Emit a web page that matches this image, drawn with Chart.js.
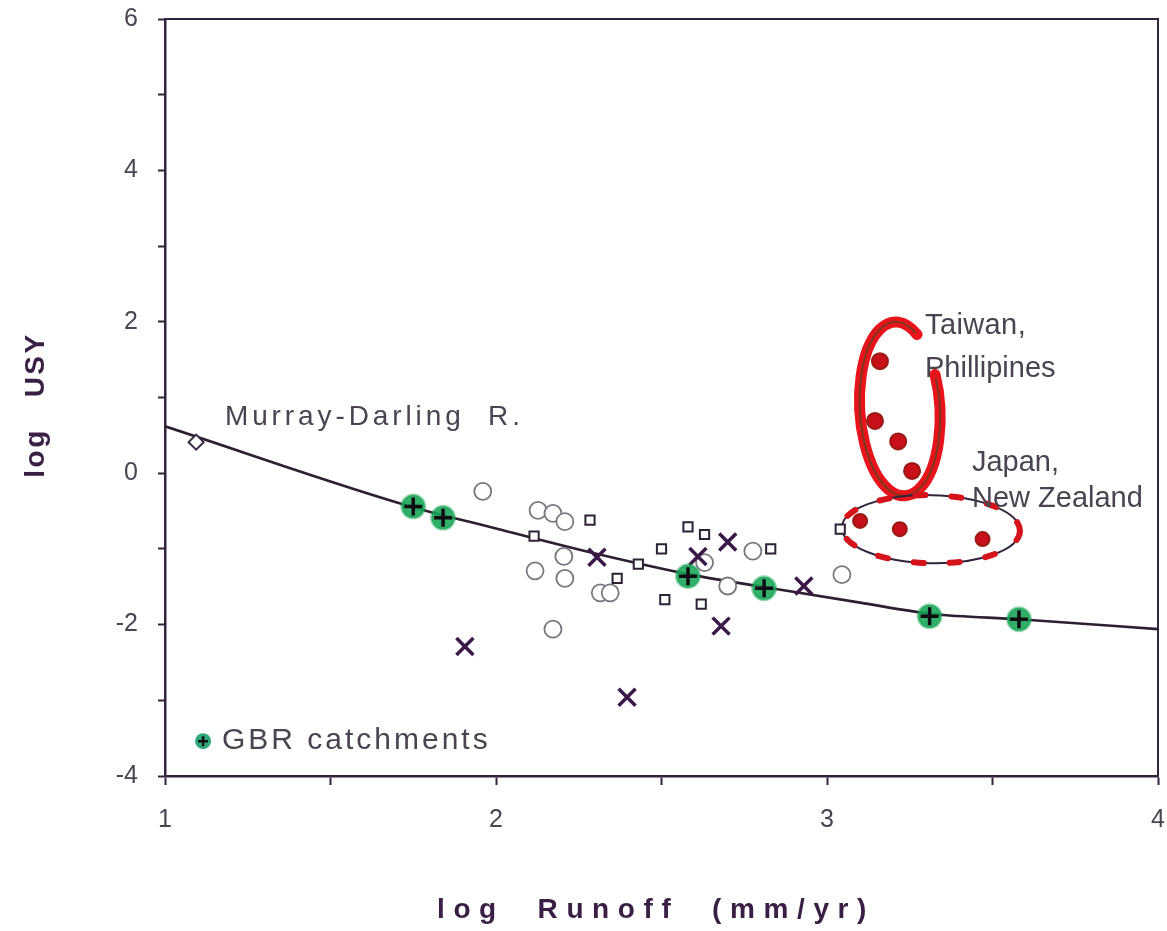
<!DOCTYPE html>
<html>
<head>
<meta charset="utf-8">
<script src="https://cdn.jsdelivr.net/npm/chart.js@4.4.1/dist/chart.umd.min.js"></script>
<style>
  html, body { margin: 0; padding: 0; background: #ffffff; }
  #wrap { width: 1167px; height: 931px; }
</style>
</head>
<body>
<div id="wrap"><canvas id="c" width="1167" height="931"></canvas></div>
<script>
// log Runoff (x) vs log USY (y)

// Fitted trend line
const trendX = [1.0, 1.75, 2.0, 2.3, 2.6, 2.82, 3.1, 3.32, 3.58, 4.0];
const trendY = [0.62, -0.45, -0.73, -1.06, -1.35, -1.51, -1.71, -1.86, -1.93, -2.06];

// Great Barrier Reef catchments
const gbrX = [1.75, 1.84, 2.58, 2.81, 3.31, 3.58];
const gbrY = [-0.44, -0.59, -1.36, -1.52, -1.89, -1.93];

// Murray-Darling River
const mdX = [1.094];
const mdY = [0.41];

// Other rivers: crosses
const crossX = [1.906, 2.305, 2.396, 2.61, 2.70, 2.68, 2.93];
const crossY = [-2.29, -1.11, -2.96, -1.10, -0.91, -2.02, -1.49];

// Other rivers: open circles
const circX = [1.96, 2.127, 2.172, 2.208, 2.118, 2.208, 2.315, 2.345, 2.172, 2.63, 2.70, 2.776, 3.045, 2.205];
const circY = [-0.24, -0.49, -0.53, -0.64, -1.29, -1.39, -1.58, -1.58, -2.06, -1.18, -1.49, -1.03, -1.34, -1.10];

// Other rivers: open squares
const sqX = [2.115, 2.284, 2.43, 2.366, 2.50, 2.51, 2.58, 2.63, 2.83, 2.62, 3.04];
const sqY = [-0.83, -0.62, -1.20, -1.39, -1.00, -1.67, -0.71, -0.81, -1.00, -1.73, -0.74];

// Taiwan, Phillipines
const twX = [3.16, 3.145, 3.215, 3.257];
const twY = [1.48, 0.69, 0.42, 0.03];

// Japan, New Zealand
const jpX = [3.10, 3.22, 3.47];
const jpY = [-0.63, -0.74, -0.87];

// Axis ticks
const xTickLabels = [1, 2, 3, 4];
const yTickLabels = [-4, -2, 0, 2, 4, 6];

const pts = (xs, ys) => xs.map((x, i) => ({ x: x, y: ys[i] }));

const INK = '#33243d';
const TEXT = '#4a4450';

// Group outlines (centre and radii in data units)
const groupRings = [
  { cx: 3.22, cy: 0.85, rx: 0.121, ry: 1.15, rot: -0.06, style: 'taiwan' },
  { cx: 3.314, cy: -0.74, rx: 0.269, ry: 0.45, rot: 0.02, style: 'japan' }
];

// Annotation text in data units
const notes = [
  { text: 'Murray-Darling  R.', x: 1.181, y: 0.74, size: 28, spacing: 3.9 },
  { text: 'Taiwan,', x: 3.296, y: 1.94, size: 29, spacing: 0.4 },
  { text: 'Phillipines', x: 3.296, y: 1.37, size: 29, spacing: 0 },
  { text: 'Japan,', x: 3.438, y: 0.14, size: 29, spacing: 0 },
  { text: 'New Zealand', x: 3.438, y: -0.34, size: 29, spacing: 0 }
];

const decor = {
  id: 'decor',
  beforeDatasetsDraw(chart) {
    const { ctx, scales: { x, y }, chartArea: a } = chart;
    ctx.save();
    // frame top and right
    ctx.strokeStyle = INK;
    ctx.lineWidth = 2;
    ctx.beginPath();
    ctx.moveTo(a.left, a.top);
    ctx.lineTo(a.right, a.top);
    ctx.lineTo(a.right, a.bottom);
    ctx.stroke();

    groupRings.forEach(r => {
      const px = x.getPixelForValue(r.cx), py = y.getPixelForValue(r.cy);
      const rx = Math.abs(x.getPixelForValue(r.cx + r.rx) - px);
      const ry = Math.abs(y.getPixelForValue(r.cy + r.ry) - py);
      if (r.style === 'taiwan') {
        const a0 = -0.38, a1 = -1.0 + Math.PI * 2;
        ctx.lineCap = 'round';
        ctx.strokeStyle = '#e8141c';
        ctx.lineWidth = 11;
        ctx.beginPath();
        ctx.ellipse(px, py, rx, ry, r.rot, a0, a1);
        ctx.stroke();
        ctx.strokeStyle = '#7a3a22';
        ctx.lineWidth = 2;
        ctx.beginPath();
        ctx.ellipse(px, py, rx, ry, r.rot, a0 + 0.05, a1 - 0.05);
        ctx.stroke();
      } else {
        ctx.strokeStyle = INK;
        ctx.lineWidth = 2;
        ctx.beginPath();
        ctx.ellipse(px, py, rx, ry, r.rot, 0, Math.PI * 2);
        ctx.stroke();
        ctx.strokeStyle = '#d4141a';
        ctx.lineWidth = 6;
        ctx.lineCap = 'round';
        ctx.setLineDash([10, 26]);
        ctx.beginPath();
        ctx.ellipse(px, py, rx, ry, r.rot, 0, Math.PI * 2);
        ctx.stroke();
        ctx.setLineDash([]);
      }
    });
    ctx.restore();
  },
  afterDraw(chart) {
    const { ctx, scales: { x, y }, chartArea: a } = chart;
    ctx.save();
    ctx.textBaseline = 'middle';
    ctx.textAlign = 'left';
    ctx.fillStyle = TEXT;
    notes.forEach(n => {
      ctx.font = n.size + 'px "Liberation Sans", Arial, sans-serif';
      ctx.letterSpacing = n.spacing + 'px';
      ctx.fillText(n.text, x.getPixelForValue(n.x), y.getPixelForValue(n.y));
    });

    // legend entry
    const lx = x.getPixelForValue(1.115), ly = y.getPixelForValue(-3.54);
    ctx.fillStyle = 'rgba(24,160,110,0.9)';
    ctx.beginPath();
    ctx.arc(lx, ly, 8, 0, Math.PI * 2);
    ctx.fill();
    ctx.strokeStyle = '#111';
    ctx.lineWidth = 2.5;
    ctx.beginPath();
    ctx.moveTo(lx - 5, ly); ctx.lineTo(lx + 5, ly);
    ctx.moveTo(lx, ly - 5); ctx.lineTo(lx, ly + 5);
    ctx.stroke();
    ctx.fillStyle = TEXT;
    ctx.font = '30px "Liberation Sans", Arial, sans-serif';
    ctx.letterSpacing = '3px';
    ctx.fillText('GBR catchments', x.getPixelForValue(1.172), ly);

    // axis titles
    ctx.fillStyle = '#3a1f45';
    ctx.font = 'bold 28px "Liberation Sans", Arial, sans-serif';
    ctx.textAlign = 'center';
    ctx.letterSpacing = '8.6px';
    ctx.fillText('log  Runoff  (mm/yr)', 656, 910);
    ctx.translate(36, 405);
    ctx.rotate(-Math.PI / 2);
    ctx.letterSpacing = '2.5px';
    ctx.fillText('log   USY', 0, 0);
    ctx.restore();
  }
};

const tickFont = { family: '"Liberation Sans", Arial, sans-serif', size: 25 };

new Chart(document.getElementById('c'), {
  type: 'scatter',
  data: {
    datasets: [
      { label: 'GBR cross', data: pts(gbrX, gbrY), pointStyle: 'cross', pointRadius: 9, borderColor: '#0d0d12', borderWidth: 3.5, order: 1 },
      { label: 'GBR catchments', data: pts(gbrX, gbrY), pointStyle: 'circle', pointRadius: 11.5, backgroundColor: 'rgba(22,165,85,0.88)', borderColor: 'rgba(22,165,85,0.45)', borderWidth: 3, order: 2 },
      { label: 'Taiwan, Phillipines', data: pts(twX, twY), pointStyle: 'circle', pointRadius: 8, backgroundColor: '#c8101a', borderColor: '#9a1a14', borderWidth: 2, order: 3 },
      { label: 'Japan, New Zealand', data: pts(jpX, jpY), pointStyle: 'circle', pointRadius: 7, backgroundColor: '#c8101a', borderColor: '#9a1a14', borderWidth: 2, order: 3 },
      { label: 'Crosses', data: pts(crossX, crossY), pointStyle: 'crossRot', pointRadius: 12, borderColor: '#3a1848', borderWidth: 3.5, order: 4 },
      { label: 'Squares', data: pts(sqX, sqY), pointStyle: 'rect', pointRadius: 6.5, backgroundColor: '#ffffff', borderColor: '#2e2235', borderWidth: 2, order: 5 },
      { label: 'Circles', data: pts(circX, circY), pointStyle: 'circle', pointRadius: 8.5, backgroundColor: '#ffffff', borderColor: '#7a7680', borderWidth: 1.8, order: 6 },
      { label: 'Murray-Darling', data: pts(mdX, mdY), pointStyle: 'rectRot', pointRadius: 7.5, backgroundColor: '#ffffff', borderColor: '#3a2a45', borderWidth: 2, order: 5 },
      { label: 'Trend', type: 'line', data: pts(trendX, trendY), borderColor: '#2c2030', borderWidth: 2.6, pointRadius: 0, tension: 0.35, cubicInterpolationMode: 'monotone', fill: false, order: 10 }
    ]
  },
  options: {
    responsive: false,
    animation: false,
    events: [],
    layout: { autoPadding: false, padding: { top: 19, right: 9, left: 0, bottom: 0 } },
    plugins: { legend: { display: false }, tooltip: { enabled: false } },
    scales: {
      x: {
        type: 'linear', min: 1, max: 4,
        afterFit(s) { s.height = 155; s.paddingLeft = 0; s.paddingRight = 0; },
        afterBuildTicks(s) { s.ticks = [1, 1.5, 2, 2.5, 3, 3.5, 4].map(v => ({ value: v })); },
        ticks: {
          callback: v => (xTickLabels.includes(v) ? String(v) : ''),
          font: tickFont, color: TEXT, padding: 20, maxRotation: 0, autoSkip: false
        },
        grid: { drawOnChartArea: false, tickLength: 9, tickWidth: 2, tickColor: INK },
        border: { color: INK, width: 2.5 }
      },
      y: {
        type: 'linear', min: -4, max: 6,
        afterFit(s) { s.width = 165; s.paddingTop = 0; s.paddingBottom = 0; },
        afterBuildTicks(s) { s.ticks = [-4, -3, -2, -1, 0, 1, 2, 3, 4, 5, 6].map(v => ({ value: v })); },
        ticks: {
          callback: v => (yTickLabels.includes(v) ? String(v) : ''),
          font: tickFont, color: TEXT, padding: 20, autoSkip: false
        },
        grid: { drawOnChartArea: false, tickLength: 7, tickWidth: 2, tickColor: INK },
        border: { color: INK, width: 2.5 }
      }
    }
  },
  plugins: [decor]
});
</script>
</body>
</html>
